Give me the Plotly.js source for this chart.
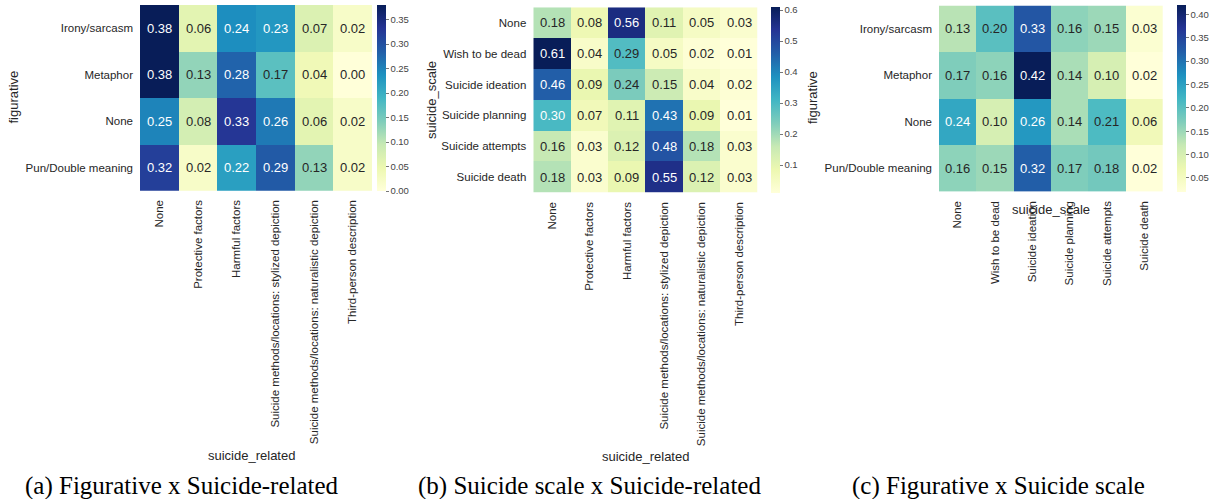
<!DOCTYPE html>
<html>
<head>
<meta charset="utf-8">
<script src="https://cdn.plot.ly/plotly-3.0.1.min.js"></script>
<style>html,body{margin:0;padding:0;background:#fff;}#chart{width:1217px;height:499px;}</style>
</head>
<body>
<div id="chart"></div>
<script>
// ---------- data ----------
const figurativeCats = ["Irony/sarcasm", "Metaphor", "None", "Pun/Double meaning"];
const suicideRelatedCats = ["None", "Protective factors", "Harmful factors",
  "Suicide methods/locations: stylized depiction",
  "Suicide methods/locations: naturalistic depiction",
  "Third-person description"];
const suicideScaleCats = ["None", "Wish to be dead", "Suicide ideation",
  "Suicide planning", "Suicide attempts", "Suicide death"];

// (a) figurative x suicide_related
const valsA = [
  [0.38, 0.06, 0.24, 0.23, 0.07, 0.02],
  [0.38, 0.13, 0.28, 0.17, 0.04, 0.00],
  [0.25, 0.08, 0.33, 0.26, 0.06, 0.02],
  [0.32, 0.02, 0.22, 0.29, 0.13, 0.02]
];
// (b) suicide_scale x suicide_related
const valsB = [
  [0.18, 0.08, 0.56, 0.11, 0.05, 0.03],
  [0.61, 0.04, 0.29, 0.05, 0.02, 0.01],
  [0.46, 0.09, 0.24, 0.15, 0.04, 0.02],
  [0.30, 0.07, 0.11, 0.43, 0.09, 0.01],
  [0.16, 0.03, 0.12, 0.48, 0.18, 0.03],
  [0.18, 0.03, 0.09, 0.55, 0.12, 0.03]
];
// (c) figurative x suicide_scale
const valsC = [
  [0.13, 0.20, 0.33, 0.16, 0.15, 0.03],
  [0.17, 0.16, 0.42, 0.14, 0.10, 0.02],
  [0.24, 0.10, 0.26, 0.14, 0.21, 0.06],
  [0.16, 0.15, 0.32, 0.17, 0.18, 0.02]
];

const captions = ["(a) Figurative x Suicide-related",
  "(b) Suicide scale x Suicide-related",
  "(c) Figurative x Suicide scale"];

// ---------- styling ----------
const W = 1217, H = 499;
const ylgnbu = ["#ffffd9", "#edf8b1", "#c7e9b4", "#7fcdbb", "#41b6c4",
  "#1d91c0", "#225ea8", "#253494", "#081d58"];
const colorscale = ylgnbu.map((c, i) => [i / (ylgnbu.length - 1), c]);
const FONT = "Liberation Sans, Arial, Helvetica, sans-serif";
const DARK = "#262626";

function hexToRgb(h) {
  return [parseInt(h.slice(1, 3), 16), parseInt(h.slice(3, 5), 16), parseInt(h.slice(5, 7), 16)];
}
function colorAt(t) {
  t = Math.max(0, Math.min(1, t));
  const n = ylgnbu.length - 1;
  const k = Math.min(n - 1, Math.floor(t * n));
  const f = t * n - k;
  const a = hexToRgb(ylgnbu[k]), b = hexToRgb(ylgnbu[k + 1]);
  return a.map((v, i) => v + (b[i] - v) * f);
}
function luminance(rgb) {
  const l = rgb.map(v => {
    v /= 255;
    return v <= 0.03928 ? v / 12.92 : Math.pow((v + 0.055) / 1.055, 2.4);
  });
  return 0.2126 * l[0] + 0.7152 * l[1] + 0.0722 * l[2];
}

const px = v => v / W;
const py = v => 1 - v / H;

const panels = [
  {vals: valsA, xc: suicideRelatedCats, yc: figurativeCats, xa: "x", ya: "y",
   dom: {x: [140, 372], y: [5, 190.7]}, cb: {x: 376.7, top: 5, bot: 191, dtick: 0.05, fmt: ".2f"}},
  {vals: valsB, xc: suicideRelatedCats, yc: suicideScaleCats, xa: "x2", ya: "y2",
   dom: {x: [533.3, 757.7], y: [7.3, 192.7]}, cb: {x: 771, top: 7, bot: 193, dtick: 0.1, fmt: ".1f"}},
  {vals: valsC, xc: suicideScaleCats, yc: figurativeCats, xa: "x3", ya: "y3",
   dom: {x: [939, 1162.7], y: [5.5, 191.7]}, cb: {x: 1176.7, top: 5, bot: 192, dtick: 0.05, fmt: ".2f"}}
];

const data = [];
const annotations = [];
const layout = {
  width: W, height: H,
  margin: {l: 0, r: 0, t: 0, b: 0},
  paper_bgcolor: "#fff", plot_bgcolor: "#fff",
  font: {family: FONT, color: DARK},
  showlegend: false
};

panels.forEach((p, idx) => {
  const flat = p.vals.flat();
  const zmin = Math.min(...flat), zmax = Math.max(...flat);
  data.push({
    type: "heatmap",
    z: p.vals, x: p.xc, y: p.yc,
    xaxis: p.xa, yaxis: p.ya,
    colorscale: colorscale,
    zmin: zmin, zmax: zmax,
    hoverinfo: "skip",
    colorbar: {
      x: px(p.cb.x), xanchor: "left", xpad: 0,
      y: py(p.cb.top), yanchor: "top", ypad: 0,
      len: (p.cb.bot - p.cb.top) / H, lenmode: "fraction",
      thickness: 9, thicknessmode: "pixels",
      outlinewidth: 0,
      ticks: "outside", ticklen: 3, tickwidth: 1, tickcolor: "#777",
      tick0: 0, dtick: p.cb.dtick, tickformat: p.cb.fmt,
      tickfont: {size: 9.5, color: "#444", family: FONT}
    }
  });
  const xk = p.xa === "x" ? "xaxis" : "xaxis" + p.xa.slice(1);
  const yk = p.ya === "y" ? "yaxis" : "yaxis" + p.ya.slice(1);
  layout[xk] = {
    domain: [px(p.dom.x[0]), px(p.dom.x[1])], anchor: p.ya,
    type: "category", tickangle: -90, ticks: "", ticklabelstandoff: 6,
    showgrid: false, zeroline: false, showline: false,
    tickfont: {size: 11.5, color: DARK, family: FONT}
  };
  layout[yk] = {
    domain: [py(p.dom.y[1]), py(p.dom.y[0])], anchor: p.xa,
    type: "category", autorange: "reversed", ticks: "", ticklabelstandoff: 6,
    showgrid: false, zeroline: false, showline: false,
    tickfont: {size: 11.5, color: DARK, family: FONT}
  };
  p.vals.forEach((row, i) => row.forEach((v, j) => {
    const lum = luminance(colorAt((v - zmin) / (zmax - zmin)));
    annotations.push({
      x: p.xc[j], y: p.yc[i], xref: p.xa, yref: p.ya,
      text: v.toFixed(2), showarrow: false,
      font: {size: 13, family: FONT, color: lum > 0.408 ? DARK : "#ffffff"}
    });
  }));
});

// axis titles
const axisTitles = [
  {t: "figurative", x: 13, y: 97.5, a: -90},
  {t: "suicide_related", x: 251, y: 455, a: 0},
  {t: "suicide_scale", x: 432, y: 100, a: -90},
  {t: "suicide_related", x: 645, y: 456, a: 0},
  {t: "figurative", x: 813, y: 98, a: -90},
  {t: "suicide_scale", x: 1051, y: 209, a: 0}
];
axisTitles.forEach(o => annotations.push({
  text: o.t, xref: "paper", yref: "paper", x: px(o.x), y: py(o.y),
  xanchor: "center", yanchor: "middle", textangle: o.a, showarrow: false,
  font: {size: 13, family: FONT, color: DARK}
}));

// captions
const capX = [182, 589, 998];
captions.forEach((c, i) => annotations.push({
  text: c, xref: "paper", yref: "paper", x: px(capX[i]), y: py(486),
  xanchor: "center", yanchor: "middle", showarrow: false, borderpad: 0,
  font: {size: 25, family: "Liberation Serif, Times New Roman, serif", color: "#000"}
}));

layout.annotations = annotations;

Plotly.newPlot("chart", data, layout, {staticPlot: true, displayModeBar: false});
</script>
</body>
</html>
